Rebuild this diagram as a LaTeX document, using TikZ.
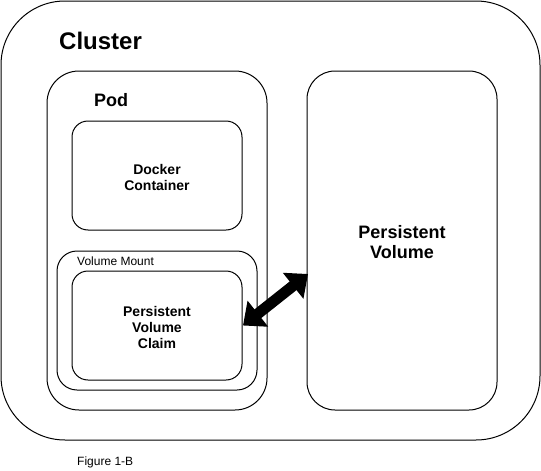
\documentclass[tikz,border=0pt]{standalone}
\usepackage{fontspec}
\setmainfont{Liberation Sans}
\usetikzlibrary{arrows.meta}
\tikzset{
  box/.style={draw=black, line width=1pt, fill=white, rectangle, inner sep=0pt, outer sep=0pt},
  boldlbl/.style={font=\bfseries, align=center, inner sep=0pt},
  plainlbl/.style={font=\fontsize{12}{14}\selectfont, inner sep=0pt, anchor=base west},
  bigarrow/.style={line width=11pt, {Triangle[length=19pt,width=32pt]}-{Triangle[length=19pt,width=32pt]}}
}
\begin{document}
\begin{tikzpicture}[x=1pt,y=-1pt]
\useasboundingbox (0,0) rectangle (541,471);
% Cluster
\node[box, rounded corners=64pt, minimum width=539pt, minimum height=439pt] (cluster) at (270.5,220.5) {};
\node[plainlbl, font=\bfseries\fontsize{24}{28}\selectfont] (clusterlbl) at (59,49.3) {Cluster};
% Pod
\node[box, rounded corners=32pt, minimum width=220pt, minimum height=339pt] (pod) at (157,240.5) {};
\node[plainlbl, font=\bfseries\fontsize{18}{22}\selectfont] (podlbl) at (94,106.7) {Pod};
% Docker container
\node[box, rounded corners=16pt, minimum width=170pt, minimum height=109pt] (docker) at (157,175.5) {};
\node[boldlbl, font=\bfseries\fontsize{14}{16}\selectfont] (dockerlbl) at (157,177) {Docker\\Container};
% Volume mount
\node[box, rounded corners=20pt, minimum width=200pt, minimum height=139pt] (vmount) at (157,320.5) {};
\node[plainlbl] (vmountlbl) at (77,265.7) {Volume Mount};
% PVC
\node[box, rounded corners=16pt, minimum width=170pt, minimum height=109pt] (pvc) at (157,325.5) {};
\node[boldlbl, font=\bfseries\fontsize{14}{16}\selectfont] (pvclbl) at (157,327) {Persistent\\Volume\\Claim};
% PV
\node[box, rounded corners=28pt, minimum width=190pt, minimum height=339pt] (pv) at (402,240.5) {};
\node[boldlbl, font=\bfseries\fontsize{18}{20}\selectfont] (pvlbl) at (402,242) {Persistent\\Volume};
% Arrow
\draw[bigarrow] ([xshift=1pt]pvc.east) -- ([yshift=-33.5pt, xshift=1pt]pv.west);
% Caption
\node[plainlbl] (caption) at (77,465) {Figure 1-B};
\end{tikzpicture}
\end{document}
